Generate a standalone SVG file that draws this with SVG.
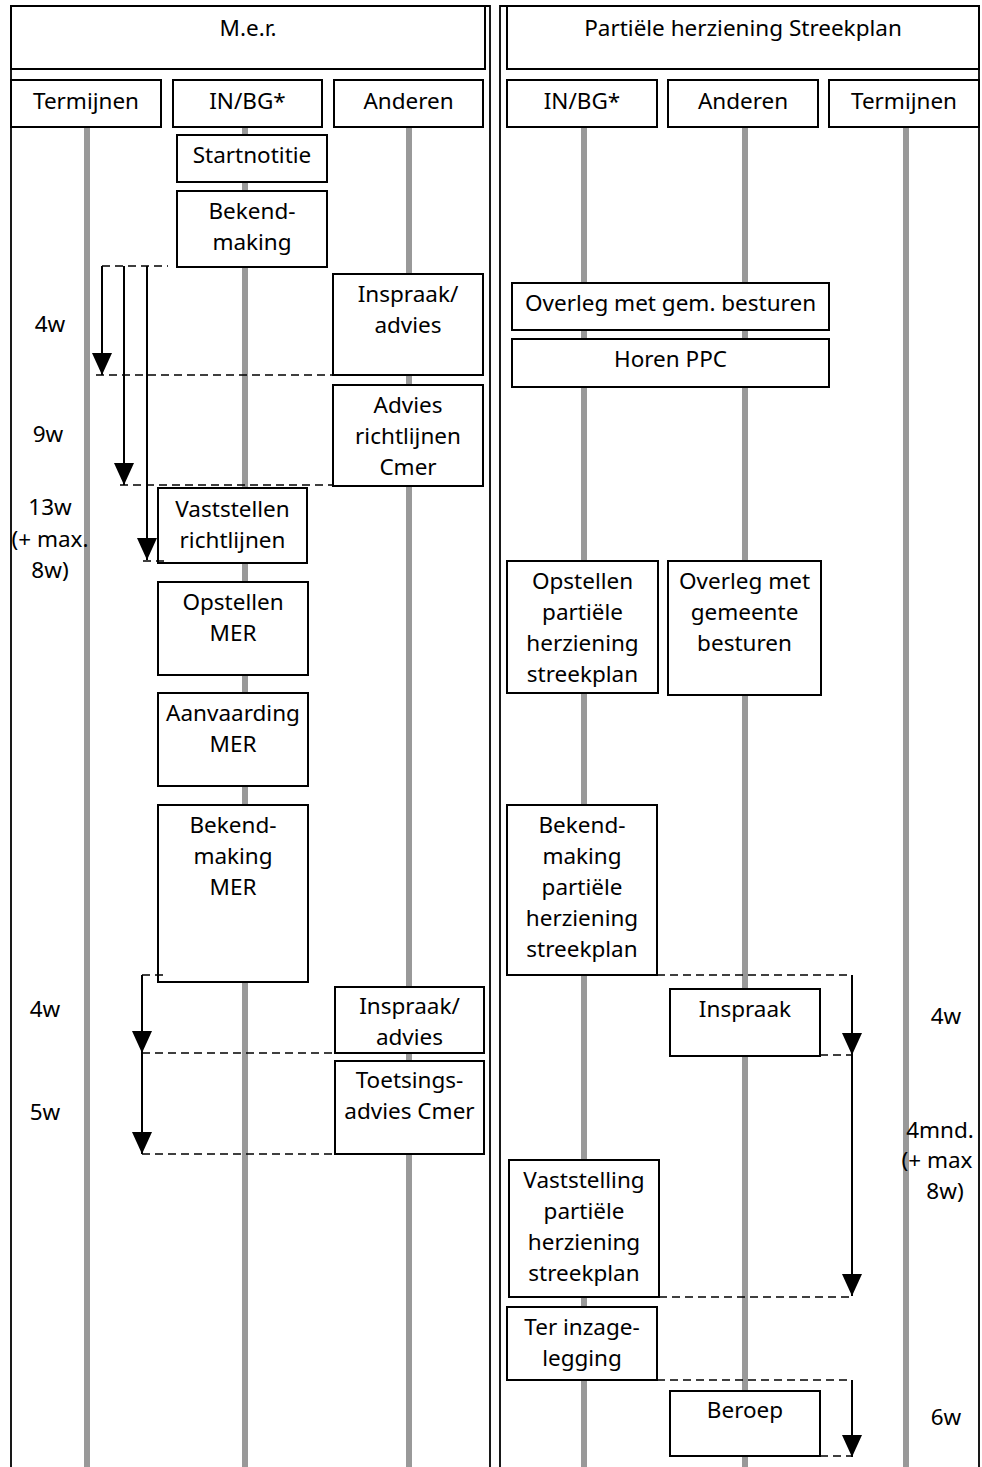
<svg xmlns="http://www.w3.org/2000/svg" width="982" height="1467" viewBox="0 0 982 1467">
<defs>
<style>
.frame{fill:none;stroke:#000;stroke-width:1.8}
.box{fill:#fff;stroke:#000;stroke-width:2}
.lane{stroke:#999;stroke-width:6}
.dash{fill:none;stroke:#000;stroke-width:1.6;stroke-dasharray:8 5}
.arr{fill:none;stroke:#000;stroke-width:2;marker-end:url(#ah)}
text{font-family:"Noto Sans","DejaVu Sans",sans-serif;font-size:22.5px;fill:#000;text-anchor:middle}
</style>
<marker id="ah" viewBox="0 0 22 20" refX="22" refY="10" markerWidth="22" markerHeight="20" markerUnits="userSpaceOnUse" orient="auto">
<path d="M0,0 L22,10 L0,20 z" fill="#000"/>
</marker>
</defs>
<rect width="982" height="1467" fill="#fff"/>

<g id="frames">
<path class="frame" d="M11,1467 V6 H490 V1467"/>
<path class="frame" d="M500,1467 V6 H979 V1467"/>
</g>

<g id="lanes">
<line class="lane" x1="87" y1="127" x2="87" y2="1467"/>
<line class="lane" x1="245" y1="127" x2="245" y2="1467"/>
<line class="lane" x1="409" y1="127" x2="409" y2="1467"/>
<line class="lane" x1="584" y1="127" x2="584" y2="1467"/>
<line class="lane" x1="745" y1="127" x2="745" y2="1467"/>
<line class="lane" x1="906" y1="127" x2="906" y2="1467"/>
</g>

<g id="hdr-mer"><rect class="box" x="11" y="6" width="474" height="63"/><text x="248" y="36">M.e.r.</text></g>
<g id="hdr-phs"><rect class="box" x="507" y="6" width="472" height="63"/><text x="743" y="36">Partiële herziening Streekplan</text></g>

<g id="col-l-termijnen"><rect class="box" x="11" y="80" width="150" height="47"/><text x="86" y="109">Termijnen</text></g>
<g id="col-l-inbg"><rect class="box" x="173" y="80" width="149" height="47"/><text x="247.5" y="109">IN/BG*</text></g>
<g id="col-l-anderen"><rect class="box" x="334" y="80" width="149" height="47"/><text x="408.5" y="109">Anderen</text></g>
<g id="col-r-inbg"><rect class="box" x="507" y="80" width="150" height="47"/><text x="582" y="109">IN/BG*</text></g>
<g id="col-r-anderen"><rect class="box" x="668" y="80" width="150" height="47"/><text x="743" y="109">Anderen</text></g>
<g id="col-r-termijnen"><rect class="box" x="829" y="80" width="150" height="47"/><text x="904" y="109">Termijnen</text></g>

<g id="startnotitie"><rect class="box" x="177" y="135" width="150" height="47"/><text x="252" y="163">Startnotitie</text></g>
<g id="bekendmaking"><rect class="box" x="177" y="191" width="150" height="76"/><text x="252" y="219">Bekend-</text><text x="252" y="250">making</text></g>
<g id="inspraak-advies-1"><rect class="box" x="333" y="274" width="150" height="101"/><text x="408" y="302">Inspraak/</text><text x="408" y="333">advies</text></g>
<g id="advies-richtlijnen"><rect class="box" x="333" y="385" width="150" height="101"/><text x="408" y="413">Advies</text><text x="408" y="444">richtlijnen</text><text x="408" y="475">Cmer</text></g>
<g id="vaststellen-richtlijnen"><rect class="box" x="158" y="488" width="149" height="75"/><text x="232.5" y="517">Vaststellen</text><text x="232.5" y="548">richtlijnen</text></g>
<g id="opstellen-mer"><rect class="box" x="158" y="582" width="150" height="93"/><text x="233" y="610">Opstellen</text><text x="233" y="641">MER</text></g>
<g id="aanvaarding-mer"><rect class="box" x="158" y="693" width="150" height="93"/><text x="233" y="721">Aanvaarding</text><text x="233" y="752">MER</text></g>
<g id="bekendmaking-mer"><rect class="box" x="158" y="805" width="150" height="177"/><text x="233" y="833">Bekend-</text><text x="233" y="864">making</text><text x="233" y="895">MER</text></g>
<g id="inspraak-advies-2"><rect class="box" x="335" y="987" width="149" height="66"/><text x="409.5" y="1014">Inspraak/</text><text x="409.5" y="1045">advies</text></g>
<g id="toetsingsadvies"><rect class="box" x="335" y="1061" width="149" height="93"/><text x="409.5" y="1088">Toetsings-</text><text x="409.5" y="1119">advies Cmer</text></g>

<g id="overleg-gem"><rect class="box" x="512" y="283" width="317" height="47"/><text x="670.5" y="311">Overleg met gem. besturen</text></g>
<g id="horen-ppc"><rect class="box" x="512" y="339" width="317" height="48"/><text x="670.5" y="367">Horen PPC</text></g>
<g id="opstellen-phs"><rect class="box" x="507" y="561" width="151" height="132"/><text x="582.5" y="589">Opstellen</text><text x="582.5" y="620">partiële</text><text x="582.5" y="651">herziening</text><text x="582.5" y="682">streekplan</text></g>
<g id="overleg-gemeente"><rect class="box" x="668" y="561" width="153" height="134"/><text x="744.5" y="589">Overleg met</text><text x="744.5" y="620">gemeente</text><text x="744.5" y="651">besturen</text></g>
<g id="bekendmaking-phs"><rect class="box" x="507" y="805" width="150" height="170"/><text x="582" y="833">Bekend-</text><text x="582" y="864">making</text><text x="582" y="895">partiële</text><text x="582" y="926">herziening</text><text x="582" y="957">streekplan</text></g>
<g id="inspraak-r"><rect class="box" x="670" y="989" width="150" height="67"/><text x="745" y="1017">Inspraak</text></g>
<g id="vaststelling-phs"><rect class="box" x="509" y="1160" width="150" height="137"/><text x="584" y="1188">Vaststelling</text><text x="584" y="1219">partiële</text><text x="584" y="1250">herziening</text><text x="584" y="1281">streekplan</text></g>
<g id="ter-inzage"><rect class="box" x="507" y="1307" width="150" height="73"/><text x="582" y="1335">Ter inzage-</text><text x="582" y="1366">legging</text></g>
<g id="beroep"><rect class="box" x="670" y="1391" width="150" height="65"/><text x="745" y="1418">Beroep</text></g>

<g id="terms">
<text x="50" y="332">4w</text>
<text x="48" y="442">9w</text>
<text x="50" y="515">13w</text>
<text x="50" y="547">(+ max.</text>
<text x="50" y="578">8w)</text>
<text x="45" y="1017">4w</text>
<text x="45" y="1120">5w</text>
<text x="946" y="1024">4w</text>
<text x="940" y="1138">4mnd.</text>
<text x="937" y="1168">(+ max</text>
<text x="945" y="1199">8w)</text>
<text x="946" y="1425">6w</text>
</g>

<g id="connectors">
<path class="dash" d="M102,266 H168"/>
<path class="dash" d="M96,375 H333"/>
<path class="dash" d="M120,485 H333"/>
<path class="dash" d="M143,561 H165"/>
<line class="arr" x1="102" y1="266" x2="102" y2="375"/>
<line class="arr" x1="124" y1="266" x2="124" y2="485"/>
<line class="arr" x1="147" y1="266" x2="147" y2="560"/>
<path class="dash" d="M142,975 H165"/>
<path class="dash" d="M142,1053 H335"/>
<path class="dash" d="M142,1154 H335"/>
<line class="arr" x1="142" y1="975" x2="142" y2="1053"/>
<line class="arr" x1="142" y1="1053" x2="142" y2="1154"/>
<path class="dash" d="M657,975 H852"/>
<path class="dash" d="M820,1055 H852"/>
<path class="dash" d="M659,1297 H852"/>
<line class="arr" x1="852" y1="975" x2="852" y2="1055"/>
<line class="arr" x1="852" y1="1055" x2="852" y2="1296"/>
<path class="dash" d="M657,1380 H852"/>
<path class="dash" d="M820,1456 H852"/>
<line class="arr" x1="852" y1="1380" x2="852" y2="1457"/>
</g>
</svg>
